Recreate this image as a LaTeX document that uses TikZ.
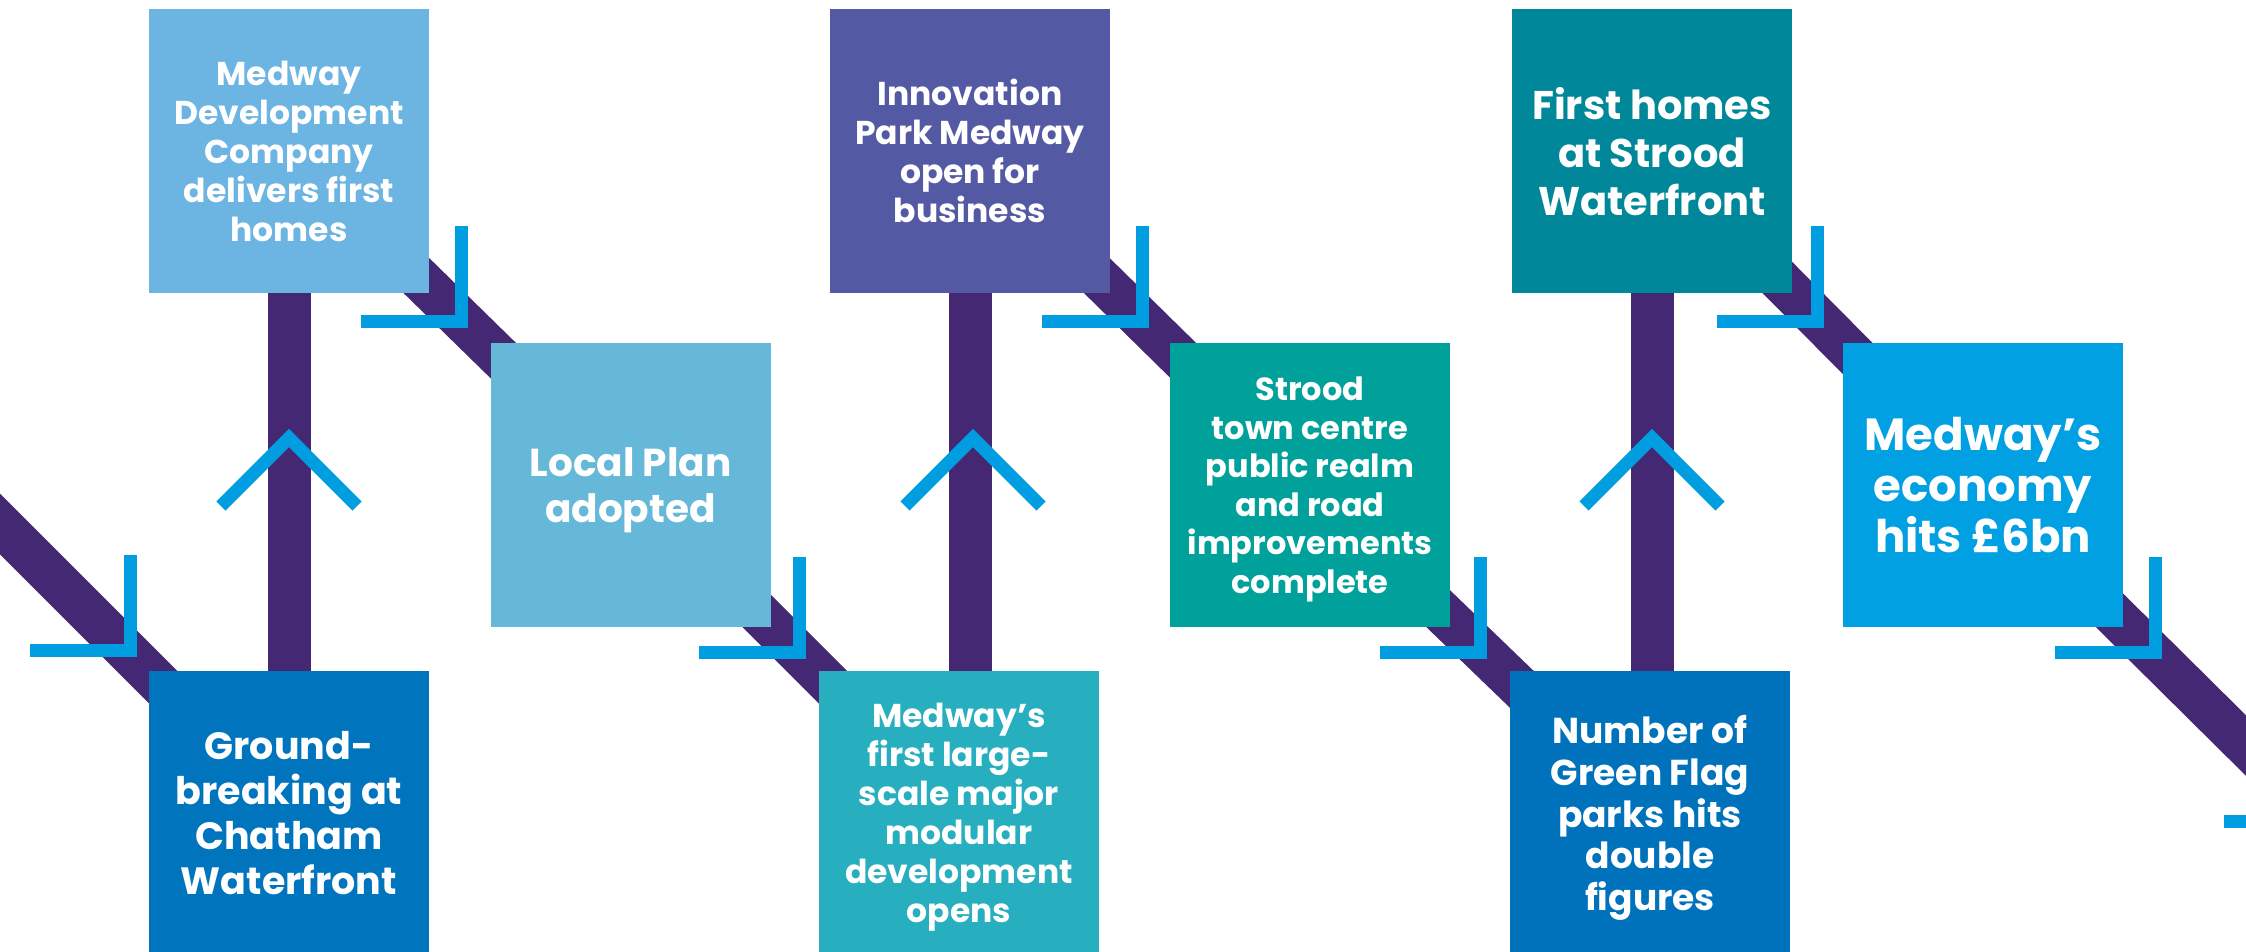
\documentclass[tikz,border=0pt]{standalone}
\usepackage{fontspec}
\setmainfont{Poppins}
\usetikzlibrary{calc,backgrounds}
\definecolor{trackpurple}{HTML}{442874}
\definecolor{markblue}{HTML}{009EE0}
\definecolor{devcoblue}{HTML}{6CB4E2}
\definecolor{groundblue}{HTML}{0075BE}
\definecolor{planblue}{HTML}{66B8D9}
\definecolor{modularteal}{HTML}{27AFC0}
\definecolor{parkindigo}{HTML}{5459A4}
\definecolor{stroodteal}{HTML}{00A19A}
\definecolor{homesteal}{HTML}{00879A}
\definecolor{flagblue}{HTML}{0072BB}
\definecolor{economyblue}{HTML}{00A0E3}
\tikzset{
    milestone/.style={
            rectangle, inner sep=0pt, minimum width=280pt, minimum height=284pt,
            align=center, text=white, text depth=0pt,
            font=\bfseries\fontsize{33}{39}\selectfont
        },
    textsize/.style 2 args={font=\bfseries\fontsize{#1}{#2}\selectfont},
    track/.style={line width=43pt, trackpurple},
    turnmark/.style={line width=13pt, markblue, miter limit=10},
    chevron/.style={line width=13pt, markblue, miter limit=10},
}

\begin{document}
\begin{tikzpicture}[x=1pt, y=-1pt]
        \useasboundingbox (0, 0) rectangle (2246, 952);
        %place milestones
        \node[milestone, fill=devcoblue] (devco) at (289, 151) {Medway\\Development\\Company\\delivers first\\homes};
        \node[milestone, fill=groundblue, textsize={38}{45}] (ground) at (289, 813) {Ground-\\breaking at\\Chatham\\Waterfront};
        \node[milestone, fill=planblue, textsize={39}{45.6}] (localplan) at (630.5, 485) {Local Plan\\adopted};
        \node[milestone, fill=modularteal] (modular) at (959, 813) {Medway’s\\first large-\\scale major\\modular\\development\\opens};
        \node[milestone, fill=parkindigo] (innovation) at (970, 151) {Innovation\\Park Medway\\open for\\business};
        \node[milestone, fill=stroodteal, textsize={32}{38.5}] (strood) at (1310, 485) {Strood\\town centre\\public realm\\and road\\improvements\\complete};
        \node[milestone, fill=flagblue, textsize={36}{41.7}] (greenflag) at (1650, 813) {Number of\\Green Flag\\parks hits\\double\\figures};
        \node[milestone, fill=homesteal, textsize={40}{48}] (firsthomes) at (1652, 151) {First homes\\at Strood\\Waterfront};
        \node[milestone, fill=economyblue, textsize={45}{51}] (economy) at (1983, 485) {Medway’s\\economy\\hits £6bn};
        %track ends outside the page
        \coordinate (trackstart) at (-100, 424);
        \coordinate (trackend) at (2420, 918);
        %draw track behind milestones
        \begin{pgfonlayer}{background}
            \draw[track] (trackstart) -- (ground.center);
            \draw[track] (devco.center |- ground.center) -- (devco.center);
            \draw[track] (devco.center) -- (localplan.center) -- (modular.center);
            \draw[track] (innovation.center |- modular.center) -- (innovation.center);
            \draw[track] (innovation.center) -- (strood.center) -- (greenflag.center);
            \draw[track] (firsthomes.center |- greenflag.center) -- (firsthomes.center);
            \draw[track] (firsthomes.center) -- (economy.center) -- (trackend);
        \end{pgfonlayer}
        %draw turn marks on diagonals
        \draw[turnmark] (30, 650.5) -- (130.5, 650.5) -- (130.5, 555);
        \draw[turnmark] (361, 321.5) -- (461.5, 321.5) -- (461.5, 226);
        \draw[turnmark] (699, 652.5) -- (799.5, 652.5) -- (799.5, 557);
        \draw[turnmark] (1042, 321.5) -- (1142.5, 321.5) -- (1142.5, 226);
        \draw[turnmark] (1380, 652.5) -- (1480.5, 652.5) -- (1480.5, 557);
        \draw[turnmark] (1717, 321.5) -- (1817.5, 321.5) -- (1817.5, 226);
        \draw[turnmark] (2055, 652.5) -- (2155.5, 652.5) -- (2155.5, 557);
        \draw[turnmark] (2224, 821.5) -- (2324.5, 821.5) -- (2324.5, 726);
        %draw chevrons on uprights
        \draw[chevron] (devco.center) ++(-68, 355) -- ++(68, -68) -- ++(68, 68);
        \draw[chevron] (innovation.center) ++(-65, 355) -- ++(68, -68) -- ++(68, 68);
        \draw[chevron] (firsthomes.center) ++(-68, 355) -- ++(68, -68) -- ++(68, 68);
    \end{tikzpicture}
\end{document}
